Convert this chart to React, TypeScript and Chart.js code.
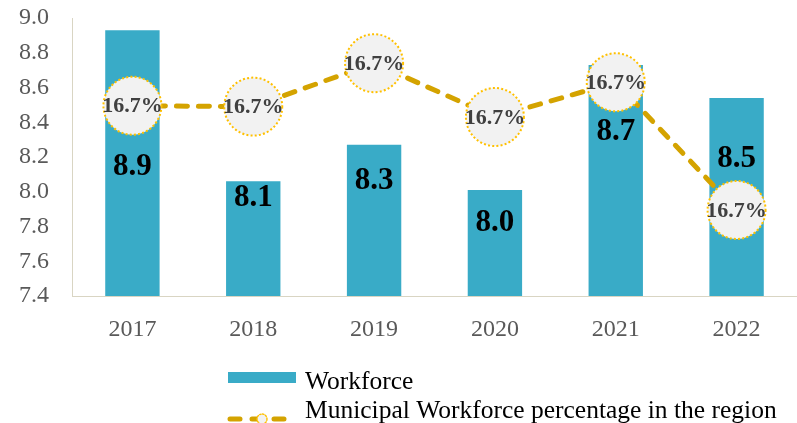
import React, { useEffect, useRef } from "react";
import Chart from "chart.js/auto";

const categories = ["2017", "2018", "2019", "2020", "2021", "2022"];
const workforce = [8.93, 8.06, 8.27, 8.01, 8.73, 8.54];
const workforceLabels = ["8.9", "8.1", "8.3", "8.0", "8.7", "8.5"];
const municipalLine = [8.495, 8.49, 8.74, 8.43, 8.63, 7.895];
const municipalLabels = ["16.7%", "16.7%", "16.7%", "16.7%", "16.7%", "16.7%"];
const yTicks = { min: 7.4, max: 9.0, step: 0.2 };

const BAR_COLOR = "#39abc7";
const LINE_COLOR = "#d4a300";
const DOT_COLOR = "#ffc000";
const FONT = "'Liberation Serif', 'DejaVu Serif', serif";
const labelOffsets = [137, 17, 36, 33, 67, 61];

function dottedCircle(ctx: CanvasRenderingContext2D, x: number, y: number, r: number, lw: number) {
  ctx.save();
  ctx.beginPath();
  ctx.arc(x, y, r, 0, Math.PI * 2);
  ctx.fillStyle = "#f2f2f2";
  ctx.fill();
  ctx.setLineDash([lw, lw * 1.1]);
  ctx.lineWidth = lw;
  ctx.strokeStyle = DOT_COLOR;
  ctx.stroke();
  ctx.restore();
}

const overlayPlugin = {
  id: "overlay",
  afterDatasetsDraw(chart: any) {
    const ctx = chart.ctx as CanvasRenderingContext2D;
    const barMeta = chart.getDatasetMeta(0);
    ctx.save();
    ctx.font = `bold 31px ${FONT}`;
    ctx.fillStyle = "#000000";
    ctx.textAlign = "center";
    ctx.textBaseline = "middle";
    barMeta.data.forEach((el: any, i: number) => {
      ctx.fillText(workforceLabels[i], el.x, el.y + labelOffsets[i]);
    });
    const lineMeta = chart.getDatasetMeta(1);
    lineMeta.data.forEach((el: any) => {
      dottedCircle(ctx, el.x, el.y, 29, 2);
    });
    ctx.font = `bold 22px ${FONT}`;
    ctx.fillStyle = "#404040";
    lineMeta.data.forEach((el: any, i: number) => {
      ctx.fillText(municipalLabels[i], el.x, el.y + 1);
    });
    ctx.restore();
  },
  afterDraw(chart: any) {
    const ctx = chart.ctx as CanvasRenderingContext2D;
    ctx.save();
    ctx.fillStyle = BAR_COLOR;
    ctx.fillRect(228, 372, 68, 11);
    ctx.font = `25.5px ${FONT}`;
    ctx.fillStyle = "#000000";
    ctx.textAlign = "left";
    ctx.textBaseline = "alphabetic";
    ctx.fillText("Workforce", 305, 389);
    ctx.beginPath();
    ctx.moveTo(230, 419);
    ctx.lineTo(294, 419);
    ctx.setLineDash([10, 12]);
    ctx.lineCap = "round";
    ctx.lineWidth = 5;
    ctx.strokeStyle = LINE_COLOR;
    ctx.stroke();
    ctx.setLineDash([]);
    dottedCircle(ctx, 262, 419, 5, 1.4);
    ctx.fillStyle = "#000000";
    ctx.fillText("Municipal Workforce percentage in the region", 305, 418);
    ctx.restore();
  },
};

export default function App() {
  const ref = useRef<HTMLCanvasElement | null>(null);
  useEffect(() => {
    document.body.style.margin = "0";
    if (!ref.current) return;
    const chart = new Chart(ref.current, {
      type: "bar",
      data: {
        labels: categories,
        datasets: [
          {
            type: "bar",
            label: "Workforce",
            data: workforce,
            backgroundColor: BAR_COLOR,
            barPercentage: 0.9,
            categoryPercentage: 0.5,
            order: 2,
          },
          {
            type: "line",
            label: "Municipal Workforce percentage in the region",
            data: municipalLine,
            borderColor: LINE_COLOR,
            borderWidth: 5,
            borderDash: [11, 11],
            borderCapStyle: "round",
            pointRadius: 0,
            tension: 0,
            order: 1,
          } as any,
        ],
      },
      options: {
        responsive: false,
        animation: false,
        layout: { padding: { top: 18, right: 0, left: 0, bottom: 77 } },
        plugins: {
          legend: { display: false },
          tooltip: { enabled: false },
        },
        scales: {
          x: {
            grid: { display: false, drawTicks: false },
            border: { display: true, color: "#d9d5c3", width: 1 },
            ticks: {
              font: { family: FONT, size: 24 },
              color: "#595959",
              padding: 19,
            },
            afterFit: (scale: any) => {
              scale.height = 50;
            },
          },
          y: {
            min: yTicks.min,
            max: yTicks.max,
            grid: { display: false, drawTicks: false },
            border: { display: true, color: "#d9d5c3", width: 1 },
            ticks: {
              stepSize: yTicks.step,
              font: { family: FONT, size: 24 },
              color: "#595959",
              padding: 23,
              callback: (v: any) => Number(v).toFixed(1),
            },
            afterFit: (scale: any) => {
              scale.width = 72;
              scale.paddingTop = 0;
              scale.paddingBottom = 0;
            },
          },
        },
      },
      plugins: [overlayPlugin],
    });
    return () => chart.destroy();
  }, []);
  return (
    <div style={{ width: 797, height: 423 }}>
      <canvas ref={ref} width={797} height={423} />
    </div>
  );
}
